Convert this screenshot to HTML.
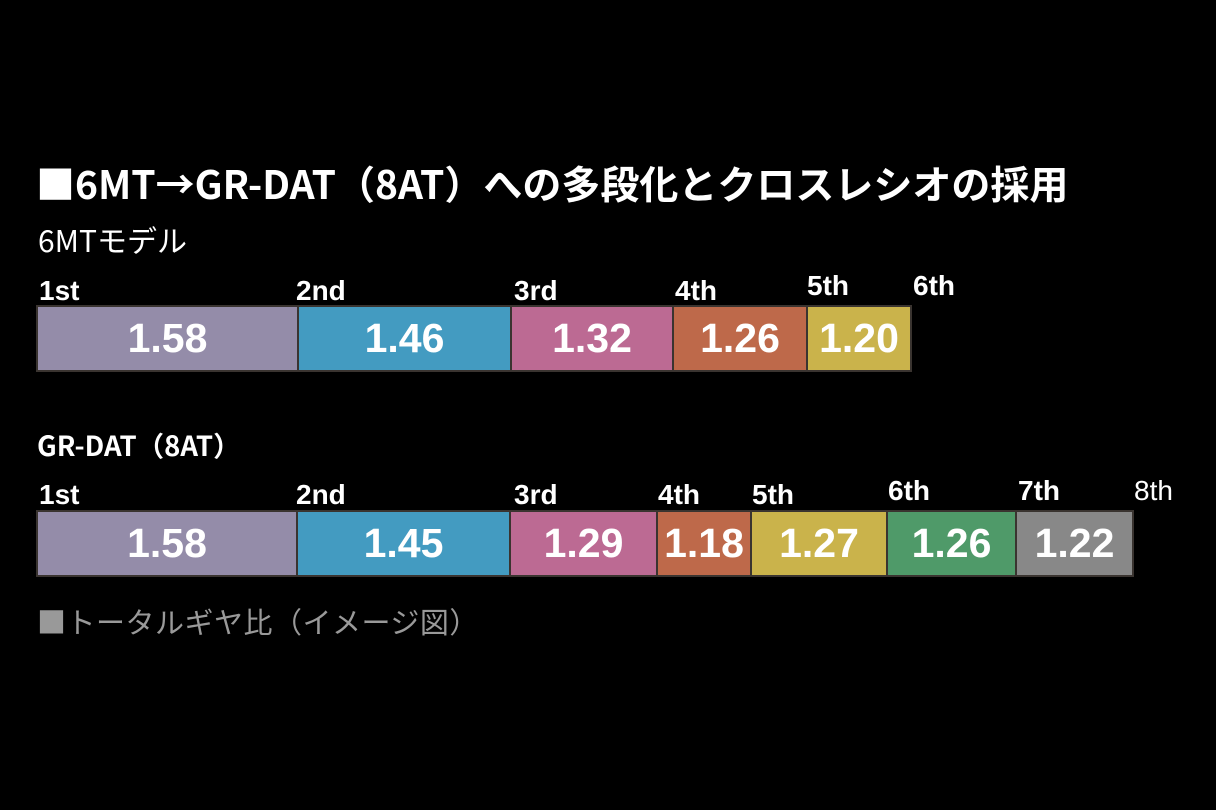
<!DOCTYPE html>
<html><head><meta charset="utf-8"><style>
body{margin:0;width:1216px;height:810px;background:#000;overflow:hidden;position:relative;font-family:"Liberation Sans","Noto Sans CJK JP",sans-serif;color:#fff}
.a{position:absolute;white-space:nowrap}
.j{font-family:"Noto Sans CJK JP",sans-serif}
.t{font-weight:bold;font-size:39px;left:36px;top:155px;line-height:56px}
.l{font-weight:bold;font-size:28px;line-height:28px}
.b{position:absolute;box-sizing:border-box;border:2px solid #3a3430;font-weight:bold;font-size:41px;display:flex;align-items:center;justify-content:center;color:#fff}
</style></head><body>
<div class="a t j">■6MT→GR-DAT（8AT）への多段化とクロスレシオの採用</div>
<div class="a j" style="left:38px;top:219px;font-size:30px;line-height:40px">6MTモデル</div>
<div class="a l" style="left:39px;top:277px">1st</div>
<div class="a l" style="left:296px;top:277px">2nd</div>
<div class="a l" style="left:514px;top:277px">3rd</div>
<div class="a l" style="left:675px;top:277px">4th</div>
<div class="a l" style="left:807px;top:272px">5th</div>
<div class="a l" style="left:913px;top:272px">6th</div>
<div class="b" style="left:36px;top:305px;width:263px;height:67px;background:#948ca9">1.58</div>
<div class="b" style="left:297px;top:305px;width:215px;height:67px;background:#439bc1">1.46</div>
<div class="b" style="left:510px;top:305px;width:164px;height:67px;background:#bc6a93">1.32</div>
<div class="b" style="left:672px;top:305px;width:136px;height:67px;background:#be694a">1.26</div>
<div class="b" style="left:806px;top:305px;width:106px;height:67px;background:#cab34b">1.20</div>
<div class="a j" style="left:37px;top:424px;font-weight:bold;font-size:27.5px;line-height:40px">GR-DAT（8AT）</div>
<div class="a l" style="left:39px;top:481px">1st</div>
<div class="a l" style="left:296px;top:481px">2nd</div>
<div class="a l" style="left:514px;top:481px">3rd</div>
<div class="a l" style="left:658px;top:481px">4th</div>
<div class="a l" style="left:752px;top:481px">5th</div>
<div class="a l" style="left:888px;top:477px">6th</div>
<div class="a l" style="left:1018px;top:477px">7th</div>
<div class="a" style="left:1134px;top:477px;font-size:28px;line-height:28px">8th</div>
<div class="b" style="left:36px;top:510px;width:262px;height:67px;background:#948ca9">1.58</div>
<div class="b" style="left:296px;top:510px;width:215px;height:67px;background:#439bc1">1.45</div>
<div class="b" style="left:509px;top:510px;width:149px;height:67px;background:#bc6a93">1.29</div>
<div class="b" style="left:656px;top:510px;width:96px;height:67px;background:#be694a">1.18</div>
<div class="b" style="left:750px;top:510px;width:138px;height:67px;background:#cab34b">1.27</div>
<div class="b" style="left:886px;top:510px;width:131px;height:67px;background:#4f9a69">1.26</div>
<div class="b" style="left:1015px;top:510px;width:119px;height:67px;background:#888888">1.22</div>
<div class="a j" style="left:37px;top:601px;color:#999;font-size:29px;line-height:40px;letter-spacing:0.5px">■トータルギヤ比（イメージ図）</div>
</body></html>
